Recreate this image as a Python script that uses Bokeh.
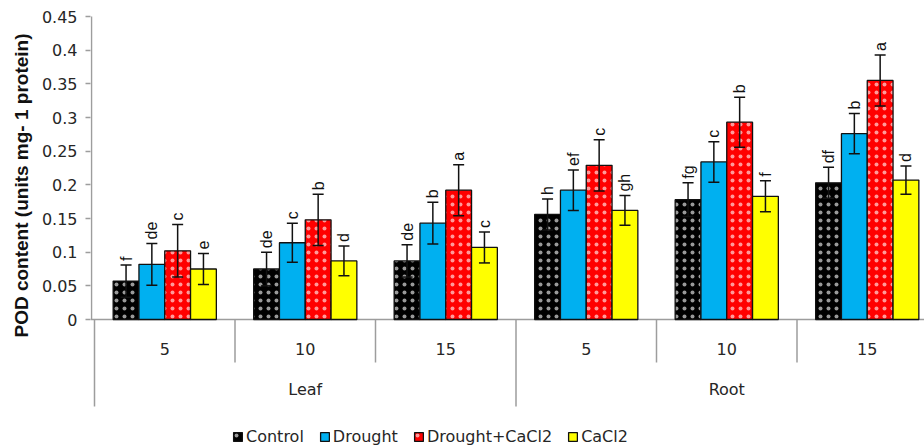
import math

from bokeh.core.properties import value
from bokeh.embed import file_html
from bokeh.models import (ColumnDataSource, FixedTicker, Legend, LegendItem,
                          LinearAxis, Range1d, TeeHead, Title, Whisker)
from bokeh.plotting import figure
from bokeh.resources import INLINE

# ---- data -------------------------------------------------------------
organs = ["Leaf", "Root"]
days = ["5", "10", "15"]
treatments = ["Control", "Drought", "Drought+CaCl2", "CaCl2"]

control = [0.057, 0.075, 0.087, 0.156, 0.178, 0.203]
drought = [0.082, 0.114, 0.143, 0.192, 0.234, 0.276]
drought_cacl2 = [0.102, 0.148, 0.192, 0.229, 0.293, 0.355]
cacl2 = [0.075, 0.087, 0.107, 0.162, 0.183, 0.207]

control_err = [0.024, 0.025, 0.024, 0.023, 0.025, 0.023]
drought_err = [0.031, 0.029, 0.031, 0.030, 0.030, 0.030]
drought_cacl2_err = [0.039, 0.038, 0.038, 0.038, 0.037, 0.038]
cacl2_err = [0.023, 0.022, 0.023, 0.022, 0.023, 0.021]

control_letters = ["f", "de", "de", "h", "fg", "df"]
drought_letters = ["de", "c", "b", "ef", "c", "b"]
drought_cacl2_letters = ["c", "b", "a", "c", "b", "a"]
cacl2_letters = ["e", "d", "c", "gh", "f", "d"]

y_ticks = [0.0, 0.05, 0.1, 0.15, 0.2, 0.25, 0.3, 0.35, 0.4, 0.45]
y_tick_labels = ["0", "0.05", "0.1", "0.15", "0.2", "0.25", "0.3", "0.35", "0.4", "0.45"]
y_label = "POD content (units mg- 1 protein)"

# ---- styling / layout ---------------------------------------------------
W, H = 924, 446
FRAME_LEFT, FRAME_TOP = 90, 10
GROUP_PX = 140.5          # width of one day-group in pixels
FIRST_GROUP_PX = 94       # left edge of the first group
ZERO_PX = 319             # pixel row of y = 0
PX_PER_Y = 303 / 0.45     # pixels per unit of y

colors = ["#000000", "#00B0F0", "#FF0000", "#FFFF00"]
dotted = [True, False, True, False]
GREY = "#9d9d9d"
TICK_FONT = "DejaVu Sans"
LETTER_FONT = "Liberation Sans"
TEXT_COLOR = "#262626"

x_start = -(FIRST_GROUP_PX - FRAME_LEFT) / GROUP_PX
x_end = x_start + (W - FRAME_LEFT) / GROUP_PX
y_end = 0.45 + (16 - FRAME_TOP) / PX_PER_Y
y_start = -(H - ZERO_PX) / PX_PER_Y


def px_to_y(py):
    return (ZERO_PX - py) / PX_PER_Y


p = figure(width=W, height=H,
           x_range=Range1d(x_start, x_end), y_range=Range1d(y_start, y_end),
           min_border_left=FRAME_LEFT, min_border_right=0,
           min_border_top=FRAME_TOP, min_border_bottom=0,
           x_axis_location=None, y_axis_location=None,
           toolbar_location=None, output_backend="svg")
p.grid.visible = False
p.outline_line_color = None
p.background_fill_color = "white"
p.border_fill_color = "white"

# y axis (ticks and labels only; its line is drawn below so it stops at 0.45)
yaxis = LinearAxis(ticker=FixedTicker(ticks=y_ticks, minor_ticks=[]))
yaxis.major_label_overrides = {t: s for t, s in zip(y_ticks, y_tick_labels)}
yaxis.axis_line_color = None
yaxis.major_tick_in = 0
yaxis.major_tick_out = 5
yaxis.major_tick_line_color = GREY
yaxis.major_tick_line_width = 1.5
yaxis.minor_tick_line_color = None
yaxis.major_label_standoff = 8
yaxis.major_label_text_font = TICK_FONT
yaxis.major_label_text_font_size = "16px"
yaxis.major_label_text_color = TEXT_COLOR
p.add_layout(yaxis, "left")

# y axis title, started above the category table so it sits beside the bars
p.add_layout(Title(text=y_label, align="left", offset=H - 337,
                   text_font=LETTER_FONT, text_font_style="bold",
                   text_font_size="19px", text_color="#111111", standoff=14), "left")

# axis lines
p.segment(x0=[x_start + 1 / GROUP_PX], y0=[0], x1=[x_start + 1 / GROUP_PX], y1=[0.45],
          line_color=GREY, line_width=1.5)
p.segment(x0=[x_start], y0=[0], x1=[x_end], y1=[0], line_color=GREY, line_width=1.5)

# category table below the bars: separators, day labels, organ labels
n_groups = len(organs) * len(days)
bounds = list(range(n_groups + 1))
depth = [px_to_y(406) if b % len(days) == 0 else px_to_y(362) for b in bounds]
p.segment(x0=bounds, y0=[0] * len(bounds), x1=bounds, y1=depth,
          line_color=GREY, line_width=1.5)

centers = [g + 0.5 for g in range(n_groups)]
p.text(x=centers, y=[px_to_y(348)] * n_groups, text=days * len(organs),
       text_align="center", text_baseline="middle",
       text_font=value(TICK_FONT), text_font_size="16px", text_color=TEXT_COLOR)
organ_centers = [o * len(days) + len(days) / 2 for o in range(len(organs))]
p.text(x=organ_centers, y=[px_to_y(389)] * len(organs), text=organs,
       text_align="center", text_baseline="middle",
       text_font=value(TICK_FONT), text_font_size="16px", text_color=TEXT_COLOR)

# bars, error bars and significance letters
series = [control, drought, drought_cacl2, cacl2]
errors = [control_err, drought_err, drought_cacl2_err, cacl2_err]
letters = [control_letters, drought_letters, drought_cacl2_letters, cacl2_letters]
bar_w = 25.8 / GROUP_PX
gap = 4 / PX_PER_Y

legend_items = []
for i, name in enumerate(treatments):
    xs = [c + (i - 1.5) * bar_w for c in centers]
    src = ColumnDataSource(dict(
        x=xs, top=series[i],
        upper=[v + e for v, e in zip(series[i], errors[i])],
        lower=[v - e for v, e in zip(series[i], errors[i])],
        lab=letters[i],
        lab_y=[v + e + gap for v, e in zip(series[i], errors[i])],
    ))
    kw = {}
    if dotted[i]:
        kw = dict(hatch_pattern="dot", hatch_color="white", hatch_alpha=0.6,
                  hatch_scale=8, hatch_weight=0.8)
    r = p.vbar(x="x", top="top", bottom=0, width=bar_w, source=src,
               fill_color=colors[i], line_color="#111111", line_width=1.3, **kw)
    legend_items.append(LegendItem(label=name, renderers=[r]))

    p.add_layout(Whisker(base="x", upper="upper", lower="lower", source=src,
                         dimension="height", level="overlay",
                         line_color="#111111", line_width=1.5,
                         upper_head=TeeHead(size=11, line_color="#111111", line_width=1.5),
                         lower_head=TeeHead(size=11, line_color="#111111", line_width=1.5)))

    p.text(x="x", y="lab_y", text="lab", source=src, angle=math.pi / 2,
           text_align="left", text_baseline="middle",
           text_font=value(LETTER_FONT), text_font_size="16px", text_color="#111111")

legend = Legend(items=legend_items, location=(232 - FRAME_LEFT, 0),
                orientation="horizontal", padding=0, margin=0, spacing=15,
                label_standoff=3, glyph_width=11, glyph_height=11,
                label_height=18, label_text_font=TICK_FONT,
                label_text_font_size="16px", label_text_color=TEXT_COLOR,
                label_text_baseline="middle",
                border_line_color=None, background_fill_alpha=0)
p.add_layout(legend)

open("out.html", "w").write(file_html(p, INLINE))
